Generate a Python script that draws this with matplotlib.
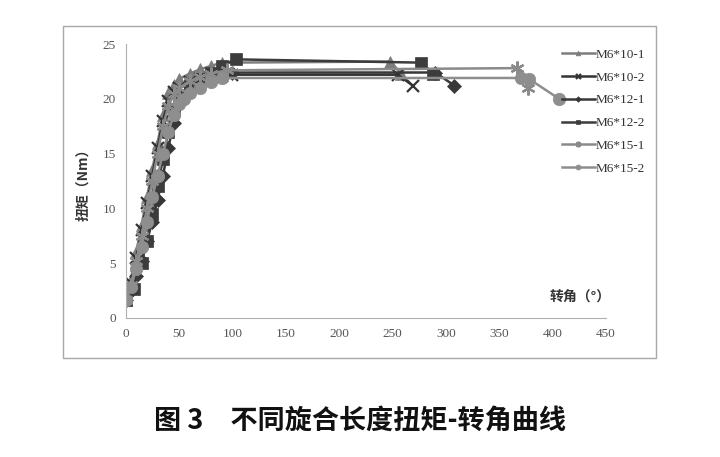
import matplotlib
matplotlib.use("Agg")
import matplotlib.pyplot as plt
from matplotlib.patches import Rectangle

plt.rcParams['font.family'] = ['Liberation Serif', 'Noto Sans CJK SC']

# torque (Nm) vs. turn angle (deg)
x_10_1 = [0, 5, 10, 15, 20, 25, 30, 35, 40, 45, 50, 60, 70, 80, 90, 248, 258]
y_10_1 = [1.6, 3.5, 6.0, 8.5, 11.0, 13.5, 16.0, 18.5, 20.5, 21.3, 21.8, 22.3, 22.7, 23.0, 23.3, 23.4, 22.3]

x_10_2 = [0, 5, 10, 15, 20, 25, 30, 35, 40, 45, 50, 60, 70, 80, 90, 100, 255, 269]
y_10_2 = [1.6, 3.2, 5.5, 8.0, 10.5, 13.0, 15.5, 18.0, 19.8, 20.6, 21.0, 21.5, 21.8, 22.0, 22.1, 22.2, 22.2, 21.2]

x_12_1 = [0, 5, 10, 15, 20, 25, 30, 35, 40, 45, 50, 55, 60, 70, 80, 90, 100, 290, 308]
y_12_1 = [1.6, 2.5, 3.8, 5.2, 7.0, 8.8, 10.8, 13.0, 15.5, 17.8, 19.5, 20.3, 20.8, 21.4, 21.8, 22.1, 22.4, 22.4, 21.2]

x_12_2 = [0, 8, 15, 20, 25, 30, 35, 40, 45, 50, 60, 70, 80, 90, 103, 277, 288]
y_12_2 = [1.6, 2.6, 5.0, 7.0, 9.5, 12.0, 14.5, 17.0, 19.0, 20.2, 21.2, 21.8, 22.4, 23.0, 23.6, 23.3, 22.3]

x_15_1 = [0, 5, 10, 15, 20, 25, 30, 35, 40, 45, 50, 60, 70, 80, 95, 367, 377]
y_15_1 = [1.6, 3.0, 5.2, 7.5, 10.0, 12.5, 15.0, 17.5, 19.3, 20.4, 21.0, 21.6, 22.0, 22.3, 22.6, 22.8, 21.0]

x_15_2 = [0, 5, 10, 15, 20, 25, 30, 35, 40, 45, 50, 55, 60, 70, 80, 90, 370, 378, 406]
y_15_2 = [1.6, 2.8, 4.5, 6.5, 8.8, 11.0, 13.0, 15.0, 17.0, 18.5, 19.5, 20.0, 20.5, 21.0, 21.5, 21.9, 21.9, 21.8, 20.0]

labels = ['M6*10-1', 'M6*10-2', 'M6*12-1', 'M6*12-2', 'M6*15-1', 'M6*15-2']
xs = [x_10_1, x_10_2, x_12_1, x_12_2, x_15_1, x_15_2]
ys = [y_10_1, y_10_2, y_12_1, y_12_2, y_15_1, y_15_2]
colors = ['#7d7d7d', '#333333', '#383838', '#3c3c3c', '#8a8a8a', '#8e8e8e']
markers = ['^', 'x', 'D', 's', (6, 2, 0), 'o']   # (6,2,0) = excel style asterisk
msizes = [8.5, 9, 7, 8, 10, 9]

xticks = [0, 50, 100, 150, 200, 250, 300, 350, 400, 450]
yticks = [0, 5, 10, 15, 20, 25]

fig = plt.figure(figsize=(7.2, 4.57), dpi=100)
ax = fig.add_axes([0.1744, 0.3042, 0.6674, 0.5995])

for x, y, lab, c, m, ms in zip(xs, ys, labels, colors, markers, msizes):
    thin = m == 'x' or isinstance(m, tuple)
    ax.plot(x, y, color=c, lw=1.8, marker=m, ms=ms, mew=1.6 if thin else 0.5,
            mec=c, mfc=c, label=lab)

ax.set_xlim(0, 450)
ax.set_ylim(0, 25)
ax.set_xticks(xticks)
ax.set_yticks(yticks)
ax.tick_params(length=0, labelsize=9.5, colors='#555555', pad=7)
for s in ['top', 'right']:
    ax.spines[s].set_visible(False)
for s in ['left', 'bottom']:
    ax.spines[s].set_color('#b0b0b0')
ax.set_ylabel('扭矩（Nm）', family=['Noto Sans CJK SC'], fontsize=10,
              fontweight='bold', color='#333333', labelpad=9)

fig.text(550 / 720, 1 - 298 / 457, '转角（°）', family=['Noto Sans CJK SC'],
         fontsize=10, fontweight='bold', color='#333333', ha='left', va='center')

leg = fig.legend(loc='upper left', bbox_to_anchor=(555 / 720, 1 - 42 / 457),
                 frameon=False, fontsize=9.5, markerscale=0.4, handlelength=2.5,
                 handletextpad=0.1, labelspacing=0.8, borderpad=0)
for t in leg.get_texts():
    t.set_color('#333333')

# outer frame around the chart
fig.patches.append(Rectangle((63 / 720, 1 - 358 / 457), (656 - 63) / 720, (358 - 26) / 457,
                             transform=fig.transFigure, fill=False,
                             edgecolor='#a8a8a8', lw=1))

fig.text(0.5, 1 - 421 / 457, '图 3\u3000不同旋合长度扭矩-转角曲线',
         family=['Noto Sans CJK SC'], fontsize=19.5, fontweight='bold',
         ha='center', va='center', color='#111111')

fig.savefig('out.png', dpi=100)
